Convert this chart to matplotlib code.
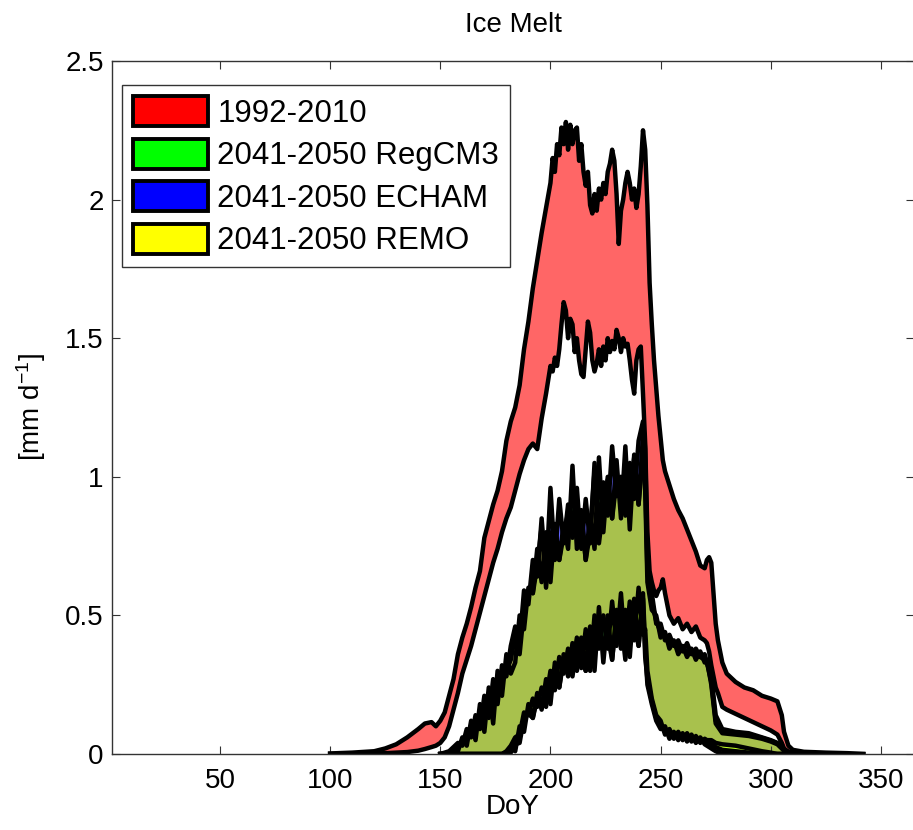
import numpy as np
import matplotlib
matplotlib.use('Agg')
import matplotlib.pyplot as plt
from matplotlib.patches import Patch

plt.rcParams['font.family'] = ['Liberation Sans', 'DejaVu Sans']
plt.rcParams['mathtext.fontset'] = 'custom'
plt.rcParams['mathtext.rm'] = 'Liberation Sans'
plt.rcParams['mathtext.default'] = 'regular'

# --- 1992-2010 band (red)
r_doy = [100, 110, 120, 125, 130, 135, 140, 143, 146, 148,
         150, 152, 154, 156, 158, 160, 162, 164, 166, 168, 170, 172, 174, 176, 178,
         180, 182, 184, 186, 188, 190, 192, 194, 196, 198,
         200, 201, 202, 203, 204, 205, 206, 207, 208, 209, 210, 211, 212, 213, 214,
         215, 216, 217, 218, 219, 220, 221, 222, 223, 224, 225, 226, 227, 228, 229,
         230, 231, 232, 233, 234, 235, 236, 237, 238, 239, 240, 241, 242, 243, 244,
         245, 246, 247, 248, 249, 250, 251, 252,
         254, 256, 258, 260, 262, 264, 266, 268, 270, 271, 272, 273, 274, 275, 276,
         278, 280, 284, 288, 292, 296, 300, 303, 305, 306, 308, 310, 315, 325, 335, 342]
r_hi = [0.002, 0.005, 0.01, 0.02, 0.035, 0.06, 0.09, 0.11, 0.115, 0.1,
        0.12, 0.15, 0.21, 0.27, 0.36, 0.42, 0.47, 0.53, 0.6, 0.66, 0.78, 0.84, 0.9, 0.95, 1.02,
        1.13, 1.2, 1.25, 1.33, 1.46, 1.56, 1.68, 1.78, 1.88, 1.97,
        2.06, 2.15, 2.1, 2.2, 2.16, 2.26, 2.2, 2.28, 2.18, 2.27, 2.2, 2.25, 2.26, 2.14, 2.2,
        2.1, 2.05, 2.1, 1.98, 1.95, 2.02, 1.96, 2.04, 2.0, 2.06, 2.02, 2.1, 2.13, 2.18, 2.14,
        2.02, 1.84, 1.96, 2.0, 2.06, 2.1, 2.06, 2.0, 2.04, 1.97, 2.02, 2.12, 2.25, 2.18, 1.98,
        1.7, 1.55, 1.42, 1.32, 1.22, 1.14, 1.06, 1.02,
        0.97, 0.92, 0.88, 0.85, 0.81, 0.77, 0.73, 0.68, 0.67, 0.7, 0.71, 0.69, 0.58, 0.47, 0.41,
        0.33, 0.29, 0.26, 0.24, 0.23, 0.21, 0.2, 0.19, 0.14, 0.08, 0.03, 0.015, 0.008, 0.005, 0.003, 0.0]
r_lo = [0.0, 0.001, 0.002, 0.003, 0.005, 0.007, 0.012, 0.018, 0.025, 0.03,
        0.04, 0.06, 0.1, 0.16, 0.22, 0.29, 0.34, 0.39, 0.45, 0.51, 0.57, 0.63, 0.69, 0.74, 0.8,
        0.85, 0.89, 0.95, 1.01, 1.06, 1.1, 1.12, 1.1, 1.21, 1.3,
        1.4, 1.38, 1.43, 1.4, 1.46, 1.55, 1.63, 1.6, 1.5, 1.57, 1.55, 1.45, 1.5, 1.42, 1.37,
        1.36, 1.46, 1.56, 1.52, 1.42, 1.38, 1.41, 1.46, 1.4, 1.47, 1.42, 1.5, 1.45, 1.49, 1.46,
        1.53, 1.5, 1.45, 1.5, 1.47, 1.48, 1.42, 1.35, 1.3, 1.42, 1.46, 1.47, 1.3, 1.12, 0.8,
        0.66, 0.62, 0.59, 0.57, 0.59, 0.6, 0.63, 0.58,
        0.5, 0.47, 0.49, 0.45, 0.47, 0.44, 0.46, 0.42, 0.41, 0.4, 0.37, 0.32, 0.28, 0.24, 0.22,
        0.17, 0.16, 0.145, 0.13, 0.115, 0.1, 0.085, 0.07, 0.04, 0.02, 0.008, 0.003, 0.0, 0.0, 0.0, 0.0]

# --- 2041-2050 scenario bands
doy_m = [150, 154, 158, 160, 162, 164, 166, 168, 170, 172, 174, 176, 178, 180, 182,
         184, 186, 188, 190, 192, 194, 196, 198, 200, 202, 204, 206, 208, 210, 212,
         214, 216, 218, 220, 222, 224, 226, 228, 230, 232, 234, 236, 238, 240, 242,
         243, 244, 246, 248, 250, 252, 254, 256, 258, 260, 262, 264, 266, 268, 270,
         271, 273, 275, 278, 284, 290, 296, 300, 303, 306, 310]

g_hi = [0, 0.005, 0.01, 0.06, 0.03, 0.12, 0.05, 0.18, 0.08, 0.24, 0.11, 0.3, 0.21, 0.36, 0.29,
        0.33, 0.5, 0.45, 0.6, 0.58, 0.74, 0.62, 0.8, 0.62, 0.83, 0.7, 0.83, 0.74, 1.04, 0.74,
        0.88, 0.7, 0.86, 0.74, 1.07, 0.8, 1.0, 0.85, 1.06, 0.85, 1.11, 0.81, 1.08, 0.9, 1.15,
        0.95, 0.62, 0.52, 0.5, 0.42, 0.44, 0.38, 0.41, 0.36, 0.39, 0.35, 0.38, 0.34, 0.37, 0.33,
        0.34, 0.25, 0.11, 0.075, 0.07, 0.065, 0.055, 0.045, 0.035, 0.012, 0]
g_lo = [0, 0, 0, 0, 0, 0, 0, 0, 0, 0, 0, 0, 0, 0.005, 0.02,
        0.01, 0.1, 0.08, 0.18, 0.13, 0.22, 0.16, 0.27, 0.18, 0.33, 0.24, 0.36, 0.28, 0.4, 0.3,
        0.42, 0.3, 0.46, 0.3, 0.53, 0.33, 0.5, 0.34, 0.52, 0.38, 0.52, 0.35, 0.56, 0.39, 0.58,
        0.38, 0.25, 0.18, 0.12, 0.09, 0.1, 0.055, 0.08, 0.05, 0.075, 0.045, 0.07, 0.04, 0.06, 0.035,
        0.03, 0.02, 0.01, 0, 0, 0, 0, 0, 0, 0, 0]

b_hi = [0, 0.01, 0.04, 0.03, 0.09, 0.06, 0.14, 0.09, 0.21, 0.13, 0.27, 0.18, 0.32, 0.28, 0.39,
        0.46, 0.4, 0.59, 0.54, 0.7, 0.64, 0.85, 0.64, 0.96, 0.7, 0.92, 0.76, 0.9, 0.82, 0.96,
        0.74, 0.92, 0.76, 1.05, 0.8, 0.98, 0.86, 1.11, 0.93, 1.0, 0.9, 1.05, 0.92, 1.13, 1.2,
        1.1, 0.7, 0.58, 0.47, 0.47, 0.41, 0.43, 0.39, 0.41, 0.37, 0.4, 0.36, 0.38, 0.35, 0.36,
        0.33, 0.28, 0.14, 0.09, 0.08, 0.075, 0.06, 0.05, 0.04, 0.015, 0]
b_lo = [0, 0, 0, 0, 0, 0, 0, 0, 0, 0, 0, 0, 0, 0.01, 0.03,
        0.06, 0.07, 0.15, 0.14, 0.2, 0.17, 0.24, 0.2, 0.3, 0.23, 0.35, 0.29, 0.38, 0.31, 0.42,
        0.31, 0.45, 0.3, 0.5, 0.41, 0.5, 0.38, 0.55, 0.39, 0.58, 0.37, 0.55, 0.41, 0.6, 0.43,
        0.45, 0.3, 0.2, 0.14, 0.12, 0.07, 0.09, 0.055, 0.08, 0.05, 0.075, 0.045, 0.065, 0.04, 0.055,
        0.05, 0.05, 0.04, 0.035, 0.03, 0.02, 0.01, 0.005, 0, 0, 0]

y_hi = [0, 0.003, 0.025, 0.04, 0.06, 0.08, 0.1, 0.13, 0.15, 0.17, 0.2, 0.24, 0.27, 0.3, 0.34,
        0.43, 0.36, 0.52, 0.59, 0.58, 0.68, 0.82, 0.6, 0.79, 0.82, 0.7, 0.79, 0.87, 0.78, 0.85,
        0.87, 0.7, 0.8, 1.02, 0.76, 0.89, 0.99, 0.85, 0.99, 0.97, 0.86, 0.93, 1.07, 0.9, 1.08,
        1.0, 0.66, 0.55, 0.48, 0.44, 0.43, 0.4, 0.4, 0.38, 0.38, 0.37, 0.37, 0.36, 0.35, 0.34,
        0.33, 0.26, 0.12, 0.08, 0.075, 0.07, 0.058, 0.048, 0.038, 0.013, 0]
y_lo = [0, 0, 0, 0, 0, 0, 0, 0, 0, 0, 0, 0, 0, 0, 0.005,
        0.035, 0.04, 0.13, 0.145, 0.13, 0.2, 0.2, 0.17, 0.28, 0.265, 0.24, 0.34, 0.33, 0.28, 0.4,
        0.35, 0.3, 0.44, 0.4, 0.38, 0.48, 0.425, 0.34, 0.5, 0.48, 0.34, 0.53, 0.47, 0.39, 0.56,
        0.35, 0.27, 0.19, 0.13, 0.1, 0.08, 0.07, 0.065, 0.065, 0.06, 0.06, 0.055, 0.05, 0.05, 0.045,
        0.04, 0.035, 0.025, 0.015, 0.01, 0.005, 0, 0, 0, 0, 0]

labels = ['1992-2010', '2041-2050 RegCM3', '2041-2050 ECHAM', '2041-2050 REMO']
colors = [(1, 0, 0), (0, 1, 0), (0, 0, 1), (1, 1, 0)]

fig = plt.figure(figsize=(9.13, 8.30), dpi=100)
ax = fig.add_axes([112/913, 76/830, 802/913, 693/830])

bands = [(r_doy, r_lo, r_hi), (doy_m, g_lo, g_hi), (doy_m, b_lo, b_hi), (doy_m, y_lo, y_hi)]
for (x, lo, hi), c in zip(bands, colors):
    ax.fill_between(x, lo, hi, facecolor=c + (0.6,), edgecolor='none', lw=0)
for (x, lo, hi) in bands:
    ax.plot(x, hi, color='k', lw=3.2)
    ax.plot(x, lo, color='k', lw=3.2)

ax.set_xlim(1, 365)
ax.set_ylim(0, 2.5)
ax.set_xticks([50, 100, 150, 200, 250, 300, 350])
ax.set_yticks([0, 0.5, 1, 1.5, 2, 2.5])
ax.set_yticklabels(['0', '0.5', '1', '1.5', '2', '2.5'])
ax.tick_params(direction='in', length=5.5, width=0.8, top=True, right=True,
               labelsize=20, colors='#333333', labelcolor='k')
ax.tick_params(axis='x', pad=10)
ax.tick_params(axis='y', pad=6)
for s in ax.spines.values():
    s.set_color('#333333')
    s.set_linewidth(1.0)

ax.set_title('Ice Melt', fontsize=20, pad=21)
ax.set_xlabel('DoY', fontsize=20, labelpad=0)
ax.set_ylabel('[mm d$^{-1}$]', fontsize=20, labelpad=12)

handles = [Patch(facecolor=c, edgecolor='k', lw=2.8) for c in colors]
leg = ax.legend(handles, labels, loc='upper left', bbox_to_anchor=(122/913, 1 - 85/830),
                bbox_transform=fig.transFigure, borderaxespad=0, fontsize=22.5,
                handlelength=2.4, handleheight=1.1, labelspacing=0.32, handletextpad=0.3,
                borderpad=0.35, fancybox=False, framealpha=1)
leg.get_frame().set_edgecolor('#333333')
leg.get_frame().set_linewidth(1.0)

plt.savefig('out.png', dpi=100)
